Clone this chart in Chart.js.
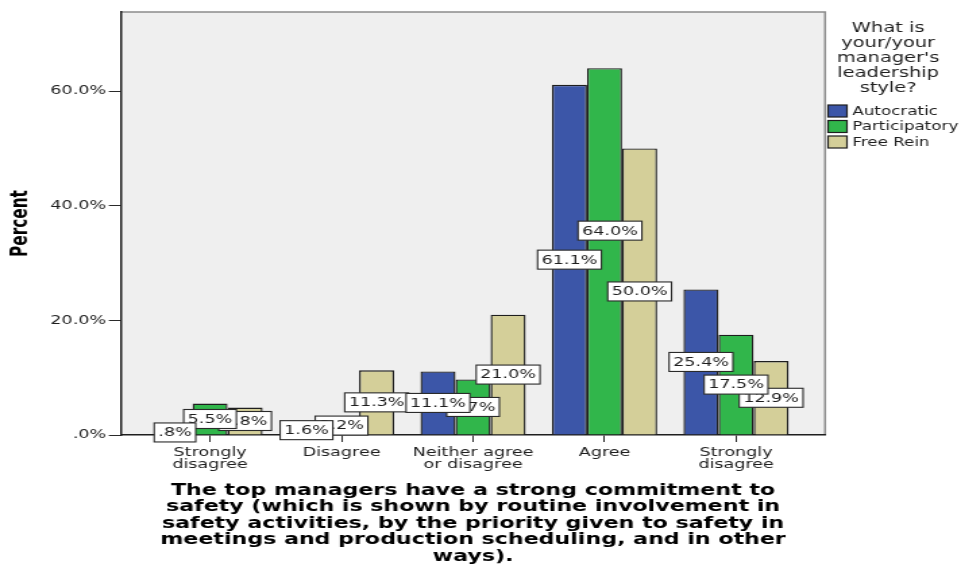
<!DOCTYPE html>
<html>
<head>
<meta charset="utf-8">
<title>Leadership style chart</title>
<style>
  html, body { margin: 0; padding: 0; background: #fff; overflow: hidden; }
  .chart-container { position: relative; width: 961px; height: 567px; overflow: hidden; }
  /* the source picture is stretched sideways, so the canvas is too */
  #myChart { display: block; transform: scaleX(1.34972); transform-origin: 0 0; }
</style>
</head>
<body>
<div class="chart-container">
  <canvas id="myChart" width="712" height="567"></canvas>
</div>
<script src="https://cdn.jsdelivr.net/npm/chart.js@4/dist/chart.umd.min.js"></script>
<script>
// data
const categories = ['Strongly disagree', 'Disagree', 'Neither agree or disagree', 'Agree', 'Strongly disagree'];
const tickLabels = [['Strongly', 'disagree'], 'Disagree', ['Neither agree', 'or disagree'], 'Agree', ['Strongly', 'disagree']];
const seriesNames = ['Autocratic', 'Participatory', 'Free Rein'];
const autocratic = [0.8, 1.6, 11.1, 61.1, 25.4];
const participatory = [5.5, 3.2, 9.7, 64.0, 17.5];
const freeRein = [4.8, 11.3, 21.0, 50.0, 12.9];
const yTicks = [0, 20, 40, 60];
const legendTitle = ['What is', 'your/your', "manager's", 'leadership', 'style?'];
const xTitle = [
  'The top managers have a strong commitment to',
  'safety (which is shown by routine involvement in',
  'safety activities, by the priority given to safety in',
  'meetings and production scheduling, and in other',
  'ways).'
];

const colors = ['#3c56a8', '#31b64b', '#d4cf99'];
const textColor = '#1e1e1e';
const font = 'DejaVu Sans';

function pct(v) {
  let s = v.toFixed(1);
  if (s.startsWith('0')) s = s.slice(1); // SPSS style ".8%"
  return s + '%';
}

// gray plot background and frame
const plotFrame = {
  id: 'plotFrame',
  beforeDraw(chart) {
    const a = chart.chartArea, ctx = chart.ctx;
    ctx.save();
    ctx.fillStyle = '#efefef';
    ctx.fillRect(a.left, a.top, a.right - a.left, a.bottom - a.top);
    ctx.strokeStyle = '#8c8c8c';
    ctx.lineWidth = 1.5;
    ctx.beginPath();
    ctx.moveTo(a.left, a.top);
    ctx.lineTo(a.right, a.top);
    ctx.lineTo(a.right, a.bottom);
    ctx.stroke();
    ctx.restore();
  }
};

// boxed value labels in the middle of each bar
const barLabels = {
  id: 'barLabels',
  afterDatasetsDraw(chart) {
    const ctx = chart.ctx;
    ctx.save();
    ctx.font = '13px "' + font + '"';
    ctx.textAlign = 'center';
    ctx.textBaseline = 'middle';
    const h = 19, padX = 3;
    const boxes = [];
    for (let i = 0; i < categories.length; i++) {
      let prev = null;
      chart.data.datasets.forEach((ds, d) => {
        const bar = chart.getDatasetMeta(d).data[i];
        const text = pct(ds.data[i].y);
        const w = ctx.measureText(text).width + padX * 2;
        let cy = (bar.y + bar.base) / 2;
        let box = {x: bar.x - w / 2, y: cy - h / 2, w: w, h: h, text: text, d: d};
        if (prev) {
          const ox = Math.min(box.x + w, prev.x + prev.w) - Math.max(box.x, prev.x);
          const oy = Math.min(box.y + h, prev.y + prev.h) - Math.max(box.y, prev.y);
          if (ox > 0.3 * w && oy > 0.5 * h) {
            const ny = prev.y - 10 - h;
            if (ny >= bar.y) { box.y = ny; box.x += 4; } // only move if it still sits on the bar
          }
        }
        boxes.push(box);
        prev = box;
      });
    }
    // blue labels end up on top
    boxes.sort((a, b) => b.d - a.d);
    boxes.forEach(b => {
      ctx.fillStyle = '#fff';
      ctx.fillRect(b.x, b.y, b.w, b.h);
      ctx.strokeStyle = '#2a2a2a';
      ctx.lineWidth = 1.1;
      ctx.strokeRect(b.x, b.y, b.w, b.h);
      ctx.fillStyle = textColor;
      ctx.fillText(b.text, b.x + b.w / 2, b.y + b.h / 2 + 0.5);
    });
    ctx.restore();
  }
};

// legend at the right with its wrapped title
const sideLegend = {
  id: 'sideLegend',
  afterDraw(chart) {
    const ctx = chart.ctx;
    ctx.save();
    ctx.fillStyle = textColor;
    ctx.textAlign = 'center';
    ctx.textBaseline = 'middle';
    ctx.font = '14.4px "' + font + '"';
    legendTitle.forEach((t, k) => ctx.fillText(t, 658, 28 + k * 15));
    ctx.font = '12.4px "' + font + '"';
    ctx.textAlign = 'left';
    seriesNames.forEach((name, k) => {
      const y = 105 + k * 15.5;
      ctx.fillStyle = colors[k];
      ctx.fillRect(613.5, y, 14, 12);
      ctx.strokeStyle = '#1e1e1e';
      ctx.lineWidth = 1.2;
      ctx.strokeRect(613.5, y, 14, 12);
      ctx.fillStyle = textColor;
      ctx.fillText(name, 631.5, y + 6.5);
    });
    ctx.restore();
  }
};

const series = [autocratic, participatory, freeRein];
const ctx = document.getElementById('myChart').getContext('2d');
const chart = new Chart(ctx, {
  type: 'bar',
  data: {
    datasets: series.map((vals, d) => ({
      label: seriesNames[d],
      data: vals.map((v, i) => ({x: i, y: v})),
      backgroundColor: colors[d],
      borderColor: '#1e1e1e',
      borderWidth: 1.4,
      categoryPercentage: 0.8,
      barPercentage: 1.0
    }))
  },
  options: {
    responsive: false,
    animation: false,
    devicePixelRatio: 1,
    layout: { padding: { top: 12, right: 100.7, left: 0, bottom: 0 } },
    plugins: {
      legend: { display: false },
      tooltip: { enabled: false }
    },
    scales: {
      x: {
        type: 'linear',
        offset: false,
        min: -0.677,
        max: 4.677,
        afterBuildTicks: (axis) => {
          axis.ticks = categories.map((c, i) => ({value: i}));
        },
        afterFit: (axis) => { axis.height = 132; },
        ticks: {
          autoSkip: false,
          maxRotation: 0,
          padding: 5,
          color: textColor,
          font: { family: font, size: 13, lineHeight: 0.92 },
          callback: (v) => tickLabels[v]
        },
        grid: { offset: false, drawOnChartArea: false, drawTicks: true, tickLength: 7, color: '#2a2a2a', lineWidth: 1 },
        border: { display: true, color: '#1e1e1e', width: 1.5 },
        title: {
          display: true,
          text: xTitle,
          color: '#000',
          font: { family: font, size: 16.4, weight: 'bold', lineHeight: 1.01 },
          padding: { top: 0, bottom: 2 }
        }
      },
      y: {
        min: 0,
        max: 73.8,
        afterBuildTicks: (axis) => {
          axis.ticks = yTicks.map(v => ({value: v}));
        },
        afterFit: (axis) => { axis.width = 89.65; },
        ticks: {
          padding: 2,
          color: textColor,
          font: { family: font, size: 13 },
          callback: (v) => pct(v)
        },
        grid: { drawOnChartArea: false, drawTicks: true, tickLength: 9, color: '#2a2a2a', lineWidth: 1 },
        border: { display: true, color: '#1e1e1e', width: 1.5 },
        title: {
          display: true,
          text: 'Percent',
          color: '#000',
          font: { family: "'Liberation Sans Narrow', 'DejaVu Sans Condensed'", size: 17, weight: 'bold', lineHeight: 1.2 },
          padding: { top: 5.5, bottom: 0 }
        }
      }
    }
  },
  plugins: [plotFrame, barLabels, sideLegend]
});
</script>
</body>
</html>
